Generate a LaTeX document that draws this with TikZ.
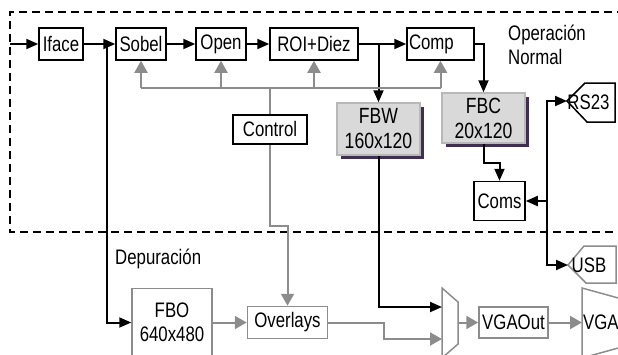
\documentclass[tikz,border=0pt]{standalone}
\usepackage{fontspec}
\setmainfont{Liberation Sans}[FakeStretch=0.8]
\usetikzlibrary{arrows.meta,shadows}
\definecolor{linea}{RGB}{140,140,140}
\definecolor{caja}{RGB}{217,217,217}
\definecolor{borde}{RGB}{184,184,184}
\definecolor{sombra}{RGB}{63,48,82}
\newcommand{\letra}{\fontsize{21}{24}\selectfont}

\begin{document}
\begin{tikzpicture}[x=1pt, y=-1pt,
    box/.style={draw, line width=1.5pt, minimum height=32pt, inner sep=1pt, font=\letra},
    gbox/.style={box, draw=linea, align=center},
    fbox/.style={box, draw=borde, fill=caja, align=center, font=\fontsize{22}{25}\selectfont,
        drop shadow={shadow xshift=4pt, shadow yshift=-4pt, fill=sombra, opacity=1}},
    arrow/.style={line width=2pt, -{Triangle[length=12pt, width=10pt]}},
    garrow/.style={line width=2pt, draw=linea, -{Triangle[length=12pt, width=13pt]}},
    gline/.style={line width=2pt, draw=linea},
    label/.style={inner sep=0pt, font=\letra, align=left}
]
\useasboundingbox (0,0) rectangle (618,354);
\clip (0,0) rectangle (618,354);

% Zona de operacion normal
\draw[line width=1.5pt, dash pattern=on 8pt off 5pt] (625,12) -- (10,12) -- (10,232) -- (625,232);
\node[label, anchor=north west] (normal) at (508,25) {Operación\\Normal};
\node[label, anchor=west] (depuracion) at (115,259) {Depuración};

% Cadena principal
\node[box, minimum width=44pt] (iface) at (61,44) {Iface};
\node[box, minimum width=50pt] (sobel) at (141,44) {Sobel};
\node[box, minimum width=50pt] (open) at (221,44) {Open};
\node[box, minimum width=88pt] (roi) at (314,44) {ROI+Diez};
\node[box, minimum width=67pt, text width=63pt, inner xsep=2pt, align=left] (comp) at (440.5,44) {Comp};
\node[box, line width=2pt, minimum width=74pt, minimum height=29pt] (control) at (270,129) {Control};

% Buffers y comunicaciones
\node[fbox, minimum width=83pt, minimum height=52pt] (fbw) at (378.5,129) {FBW\\160x120};
\node[fbox, minimum width=83pt, minimum height=50pt] (fbc) at (483.5,118) {FBC\\20x120};
\node[box, minimum width=51pt, minimum height=39pt] (coms) at (499.5,201) {Coms};
\draw[line width=1.5pt] (567,101) -- (585,83) -- (615,83) -- (615,122) -- (587,122) -- cycle;
\coordinate (rs) at (567,101);
\node[label] (rstext) at (588.5,102) {RS23};
\draw[linea, line width=1.5pt] (568,265) -- (584,246) -- (616,246) -- (616,283) -- (586,283) -- cycle;
\coordinate (usb) at (568,265);
\node[label] (usbtext) at (589,265) {USB};

% Salida de depuracion
\node[gbox, minimum width=80pt, minimum height=68pt] (fbo) at (172,322.5) {FBO\\640x480};
\node[gbox, minimum width=80pt] (overlays) at (287.5,322.5) {Overlays};
\node[gbox, minimum width=69pt, minimum height=31pt] (vgaout) at (513.5,322.5) {VGAOut};
\draw[linea, line width=1.5pt] (442,288) -- (458,302) -- (458,344) -- (442,358) -- cycle;
\coordinate (muxa) at (442,307);
\coordinate (muxb) at (442,339);
\coordinate (muxo) at (458,322.5);
\draw[linea, line width=1.5pt] (582,288) -- (640,304) -- (640,342) -- (582,358) -- cycle;
\node[label, anchor=west, inner sep=1pt] (vga) at (582,322.5) {VGA};

% Flechas negras
\coordinate (entrada) at (10,44);
\coordinate (rama) at (107,44);
\coordinate (bus) at (547,0);
\draw[arrow] (entrada) -- (iface);
\draw[arrow] (iface) -- (sobel);
\draw[arrow] (rama) |- (fbo.west);
\draw[arrow] (sobel) -- (open);
\draw[arrow] (open) -- (roi);
\draw[arrow] (roi) -- (comp);
\draw[arrow] (roi.east -| fbw) -- (fbw.north);
\draw[arrow] (fbw.south) |- (muxa);
\draw[arrow] (comp.east) -| (fbc.north);
\draw[arrow] (fbc.south) -- ++(0,19) -| (coms.north);
\draw[arrow] (coms.east -| bus) |- (rs);
\draw[arrow] (coms.east -| bus) |- (usb);
\draw[arrow] (coms.east -| bus) -- (coms.east);

% Flechas grises
\coordinate (ctl) at (270,88);
\draw[gline] (sobel.south |- ctl) -- (comp.south |- ctl);
\draw[gline] (control.north) -- (ctl);
\foreach \n in {sobel,open,roi,comp}
    \draw[garrow] (\n.south |- ctl) -- (\n.south);
\draw[garrow] (control.south) -- ++(0,81) -| (overlays.north);
\draw[garrow] (fbo) -- (overlays);
\draw[garrow] (overlays.east) -- ++(56,0) |- (muxb);
\draw[garrow] (muxo) -- (vgaout);
\draw[garrow] (vgaout) -- (vga.west);

\end{tikzpicture}
\end{document}
